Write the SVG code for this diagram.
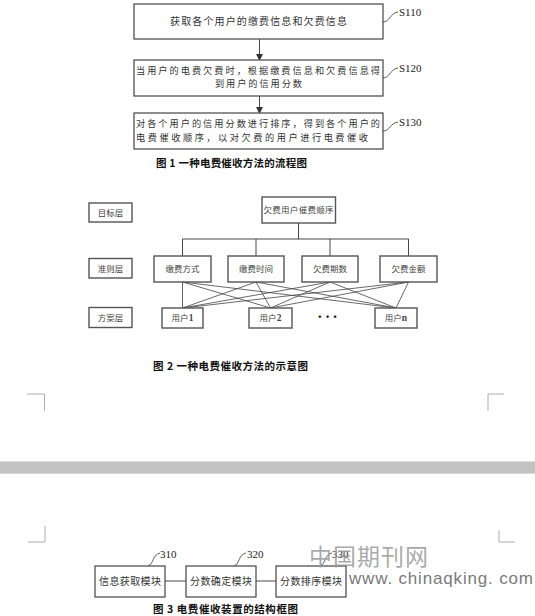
<svg xmlns="http://www.w3.org/2000/svg" width="535" height="616" viewBox="0 0 535 616">
<defs>
<marker id="arr" viewBox="0 0 8 8" refX="7" refY="4" markerWidth="7" markerHeight="7" markerUnits="userSpaceOnUse" orient="auto">
<path d="M0,0 L8,4 L0,8 z" fill="#333"/>
</marker>
<style>
.box{fill:#fff;stroke:#444;stroke-width:1.2}
.box2{fill:#fff;stroke:#555;stroke-width:1.4}
.ln{fill:none;stroke:#333;stroke-width:0.9}
.sq{fill:none;stroke:#333;stroke-width:0.8}
.t{font-family:"Noto Sans CJK SC","Noto Sans",sans-serif;fill:#333;font-size:10px}
.tm{font-family:"Noto Sans CJK SC","Noto Sans",sans-serif;fill:#333;font-size:9.2px}
.t2{font-family:"Noto Sans CJK SC","Noto Sans",sans-serif;fill:#444;font-size:8.5px}
.lab{font-family:"Liberation Serif",serif;fill:#222;font-size:11px}
.cap{font-family:"Noto Sans CJK SC","Noto Sans",sans-serif;fill:#111;font-size:10.5px;font-weight:bold}
.mark{fill:none;stroke:#999;stroke-width:0.8}
</style>
</defs>
<rect width="535" height="616" fill="#fff"/>

<!-- Figure 1 -->
<g id="connectors1">
<line class="ln" x1="259.5" y1="39" x2="259.5" y2="60" marker-end="url(#arr)"/>
<line class="ln" x1="259.5" y1="96" x2="259.5" y2="113" marker-end="url(#arr)"/>
<path class="sq" d="M383,22 C390,22 390,13 398,12"/>
<path class="sq" d="M383,78 C390,78 390,69 398,68"/>
<path class="sq" d="M383,131 C390,131 390,123 398,122"/>
</g>
<g id="s110">
<rect class="box" x="134" y="4" width="249" height="35"/>
<text class="t" x="258.5" y="24.5" text-anchor="middle" textLength="177">获取各个用户的缴费信息和欠费信息</text>
<text class="lab" x="399" y="16">S110</text>
</g>
<g id="s120">
<rect class="box" x="134" y="60" width="249" height="36"/>
<text class="tm" x="136" y="73.5" textLength="244">当用户的电费欠费时，根据缴费信息和欠费信息得</text>
<text class="tm" x="258.5" y="86.5" text-anchor="middle" textLength="87">到用户的信用分数</text>
<text class="lab" x="399" y="72">S120</text>
</g>
<g id="s130">
<rect class="box" x="134" y="113" width="249" height="36"/>
<text class="tm" x="136" y="127" textLength="244">对各个用户的信用分数进行排序，得到各个用户的</text>
<text class="tm" x="136" y="140.5" textLength="232">电费催收顺序，以对欠费的用户进行电费催收</text>
<text class="lab" x="399" y="126">S130</text>
</g>
<text class="cap" x="156" y="167" textLength="151">图 1 一种电费催收方法的流程图</text>

<!-- Figure 2 -->
<g id="connectors2">
<polyline class="ln" points="298.5,223 298.5,239"/>
<line class="ln" x1="182.5" y1="239" x2="408.5" y2="239"/>
<line class="ln" x1="182.5" y1="239" x2="182.5" y2="256"/>
<line class="ln" x1="256" y1="239" x2="256" y2="256"/>
<line class="ln" x1="330" y1="239" x2="330" y2="256"/>
<line class="ln" x1="408.5" y1="239" x2="408.5" y2="256"/>
<g stroke="#444" stroke-width="0.8">
<line x1="182.5" y1="282" x2="182.5" y2="308"/>
<line x1="182.5" y1="282" x2="270.5" y2="308"/>
<line x1="182.5" y1="282" x2="396" y2="308"/>
<line x1="256" y1="282" x2="182.5" y2="308"/>
<line x1="256" y1="282" x2="270.5" y2="308"/>
<line x1="256" y1="282" x2="396" y2="308"/>
<line x1="330" y1="282" x2="182.5" y2="308"/>
<line x1="330" y1="282" x2="270.5" y2="308"/>
<line x1="330" y1="282" x2="396" y2="308"/>
<line x1="408.5" y1="282" x2="182.5" y2="308"/>
<line x1="408.5" y1="282" x2="270.5" y2="308"/>
<line x1="408.5" y1="282" x2="396" y2="308"/>
</g>
</g>
<g id="layer-goal"><rect class="box2" x="89" y="203" width="43" height="19"/><text class="t2" x="110.5" y="215.5" text-anchor="middle">目标层</text></g>
<g id="layer-criteria"><rect class="box2" x="89" y="258.5" width="43" height="19.5"/><text class="t2" x="110.5" y="271.5" text-anchor="middle">准则层</text></g>
<g id="layer-plan"><rect class="box2" x="89" y="307.5" width="43" height="20"/><text class="t2" x="110.5" y="320.5" text-anchor="middle">方案层</text></g>
<g id="goal"><rect class="box2" x="262" y="197" width="73.5" height="26"/><text class="t2" x="298.5" y="213" text-anchor="middle" textLength="70">欠费用户催费顺序</text></g>
<g id="c1"><rect class="box2" x="154" y="256" width="57" height="26"/><text class="t2" x="182.5" y="272" text-anchor="middle" textLength="34">缴费方式</text></g>
<g id="c2"><rect class="box2" x="228" y="256" width="56" height="26"/><text class="t2" x="256" y="272" text-anchor="middle" textLength="34">缴费时间</text></g>
<g id="c3"><rect class="box2" x="302" y="256" width="56" height="26"/><text class="t2" x="330" y="272" text-anchor="middle" textLength="34">欠费期数</text></g>
<g id="c4"><rect class="box2" x="380" y="256" width="57" height="26"/><text class="t2" x="408.5" y="272" text-anchor="middle" textLength="34">欠费金额</text></g>
<g id="u1"><rect class="box2" x="162" y="308" width="41" height="20"/><text class="t2" x="182.5" y="321" text-anchor="middle">用户<tspan font-family="Liberation Serif,serif" font-weight="bold" font-size="9.5">1</tspan></text></g>
<g id="u2"><rect class="box2" x="249" y="308" width="43" height="20"/><text class="t2" x="270.5" y="321" text-anchor="middle">用户<tspan font-family="Liberation Serif,serif" font-weight="bold" font-size="9.5">2</tspan></text></g>
<g id="dots"><text x="328" y="320" text-anchor="middle" font-family="Liberation Sans,sans-serif" font-size="9" font-weight="bold" fill="#222" letter-spacing="1">• • •</text></g>
<g id="un"><rect class="box2" x="375" y="308" width="42" height="20"/><text class="t2" x="396" y="321" text-anchor="middle">用户<tspan font-family="Liberation Serif,serif" font-weight="bold" font-size="9.5">n</tspan></text></g>
<text class="cap" x="153" y="370" textLength="155">图 2 一种电费催收方法的示意图</text>

<!-- page marks and separator -->
<g id="page">
<path class="mark" d="M27,394 H44.5 V411"/>
<path class="mark" d="M504,394 H488 V411"/>
<rect x="0" y="461" width="535" height="13" fill="#c2c2c2"/>
<line x1="0" y1="461.5" x2="535" y2="461.5" stroke="#dedede" stroke-width="1"/>
<line x1="0" y1="473.5" x2="535" y2="473.5" stroke="#d6d6d6" stroke-width="1"/>
<path class="mark" d="M28,542 H45 V526"/>
<path class="mark" d="M499,530 V542 H515"/>
</g>

<!-- Figure 3 -->
<g id="connectors3">
<line class="ln" x1="165" y1="581" x2="186" y2="581" stroke-width="1.2"/>
<line class="ln" x1="256" y1="581" x2="276" y2="581" stroke-width="1.2"/>
<path class="sq" d="M148,566 C154,564 152,555 160,553"/>
<path class="sq" d="M234,566 C240,564 238,555 246,553"/>
<path class="sq" d="M320,566 C326,564 324,555 332,553"/>
</g>
<g id="m310"><rect class="box" x="95" y="566" width="70" height="31"/><text class="t" x="130" y="585" text-anchor="middle" textLength="62">信息获取模块</text><text class="lab" x="160" y="558">310</text></g>
<g id="m320"><rect class="box" x="186" y="566" width="70" height="31"/><text class="t" x="221" y="585" text-anchor="middle" textLength="62">分数确定模块</text><text class="lab" x="247" y="558">320</text></g>
<g id="m330"><rect class="box" x="276" y="566" width="70" height="31"/><text class="t" x="311" y="585" text-anchor="middle" textLength="62">分数排序模块</text><text class="lab" x="332" y="558">330</text></g>
<text class="cap" x="153" y="613" textLength="145">图 3 电费催收装置的结构框图</text>

<!-- watermark -->
<g id="watermark">
<text x="309" y="565" font-family="Noto Sans CJK SC,sans-serif" font-size="23" fill="#9a9a9a" fill-opacity="0.85" textLength="119">中国期刊网</text>
<text x="349" y="584" font-family="Liberation Sans,sans-serif" font-size="17" fill="#7a7a7a" textLength="184">www. chinaqking. com</text>
</g>
</svg>
